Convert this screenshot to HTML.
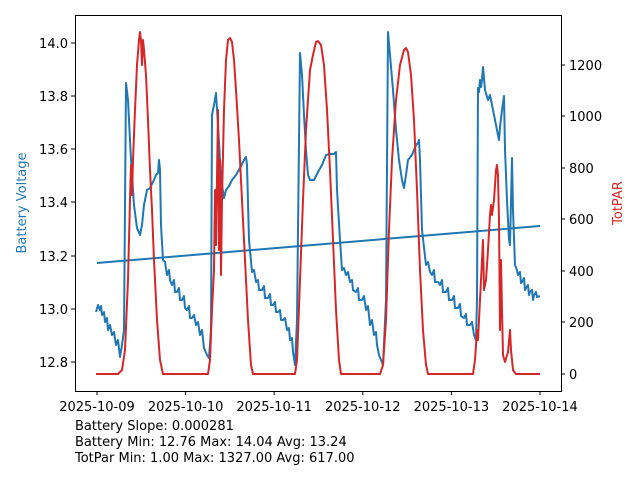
<!DOCTYPE html>
<html><head><meta charset="utf-8"><style>body{margin:0;background:#fff}svg{display:block}text{font-family:"DejaVu Sans","Liberation Sans",sans-serif}</style></head><body>
<svg width="640" height="480" viewBox="0 0 640 480" xmlns="http://www.w3.org/2000/svg">
<rect width="640" height="480" fill="#fff"/>
<g fill="none" stroke-width="2" stroke-linejoin="round">
<polyline stroke="#1f77b4" stroke-width="2" points="97,263 540,226"/>
<polyline stroke="#1f77b4" points="96,312 98,305 100,310 101,306 102,315 104,312 105,322 107,318 108,330 110,325 112,335 114,332 116,345 118,340 120,357 122,345 124,330 126,83 128,100 131,160 134,205 137,228 140,235 142,225 144,205 147,190 150,188 153,182 156,175 158,173 159,160 160,170 161,225 163,260 165,262 167,275 169,270 170,280 172,285 174,280 175,292 177,292 179,288 180,300 182,300 184,296 185,308 187,310 189,306 190,318 192,318 194,315 196,325 198,322 200,335 202,330 204,348 207,355 209,358 211,330 212,115 214,105 216,93 218,125 220,160 222,185 224,198 226,190 229,186 232,180 236,175 240,168 244,160 246,157 247,165 249,240 252,272 254,270 256,282 258,280 259,290 262,290 264,286 265,298 268,298 270,294 271,305 273,305 275,302 276,312 278,312 280,310 281,320 283,320 285,318 287,330 289,328 290,340 292,338 293,352 295,365 297,320 300,53 302,75 304,115 306,150 308,175 310,180 314,180 318,172 322,165 326,155 330,154 334,154 336,152 337,190 340,240 342,270 344,268 346,275 348,272 350,282 352,280 353,290 356,292 358,288 359,300 362,300 364,296 366,310 368,306 370,325 372,320 374,335 376,332 377,345 379,355 383,365 386,300 388,32 390,55 393,90 396,130 399,160 402,180 404,188 406,175 408,160 412,155 416,145 418,143 419,140 420,160 422,230 426,265 428,262 430,272 432,275 434,270 435,282 438,282 440,285 442,280 443,292 446,292 448,288 449,300 452,300 454,296 455,308 458,308 460,304 461,316 464,318 466,314 467,325 470,325 472,322 474,335 476,340 477,300 478,88 479,92 480,80 481,87 482,80 483,67 485,90 488,100 490,95 492,105 494,115 496,125 498,135 499,140 500,127 502,110 504,96 505,150 507,200 509,240 510,245 512,158 513,210 515,265 517,270 518,275 520,272 521,283 522,282 524,278 525,290 526,288 528,285 529,295 530,292 532,290 533,300 534,295 536,292 537,297 540,296"/>
<polyline stroke="#d62728" points="96,374 118,374 122,370 125,350 128,280 130,200 131,165 132,195 133,160 135,110 137,65 139,40 140,32 141,40 142,65 143,40 144,50 146,75 148,120 150,170 152,210 154,260 157,320 160,360 163,374 208,374 210,360 212,310 214,270 215,190 216,245 218,110 219,250 220,160 221,275 222,200 224,110 226,60 228,40 230,38 232,42 234,60 236,90 239,140 242,200 245,260 248,320 251,365 253,374 295,374 297,360 300,280 303,200 306,130 310,70 313,55 316,42 318,41 321,45 324,65 327,110 330,170 333,240 336,310 339,360 341,374 380,374 383,365 386,320 389,230 392,160 396,100 400,65 404,50 406,48 408,52 411,75 414,120 417,190 420,270 423,330 426,365 428,374 473,374 475,360 477,330 478,340 480,300 482,260 483,240 484,290 486,280 488,250 490,215 491,205 492,215 494,200 496,170 497,165 498,175 499,220 500,330 501,260 502,310 503,355 505,362 508,352 510,330 511,350 513,370 516,374 540,374"/>
</g>
<rect x="75.5" y="15.5" width="486" height="376" fill="none" stroke="#000" stroke-width="1"/>
<g stroke="#000" stroke-width="1">
<path d="M75,362h-4M75,309h-4M75,256h-4M75,202h-4M75,149h-4M75,96h-4M75,43h-4"/>
<path d="M561,374h4M561,322h4M561,271h4M561,219h4M561,168h4M561,116h4M561,65h4"/>
<path d="M97,391v4M185.6,391v4M274.2,391v4M362.8,391v4M451.4,391v4M540,391v4"/>
</g>
<g font-size="13" fill="#000" text-anchor="end">
<text x="68" y="367">12.8</text><text x="68" y="314">13.0</text><text x="68" y="261">13.2</text><text x="68" y="207">13.4</text><text x="68" y="154">13.6</text><text x="68" y="101">13.8</text><text x="68" y="48">14.0</text>
</g>
<g font-size="13" fill="#000">
<text x="569" y="379">0</text><text x="569" y="327">200</text><text x="569" y="276">400</text><text x="569" y="224">600</text><text x="569" y="173">800</text><text x="569" y="121">1000</text><text x="569" y="70">1200</text>
</g>
<g font-size="13" fill="#000" text-anchor="middle">
<text x="97" y="411">2025-10-09</text><text x="185.6" y="411">2025-10-10</text><text x="274.2" y="411">2025-10-11</text><text x="362.8" y="411">2025-10-12</text><text x="451.4" y="411">2025-10-13</text><text x="540" y="411">2025-10-14</text>
</g>
<text transform="translate(26,203) rotate(-90)" font-size="13" fill="#1f77b4" text-anchor="middle">Battery Voltage</text>
<text transform="translate(622,203) rotate(-90)" font-size="13" fill="#d62728" text-anchor="middle">TotPAR</text>
<g font-size="13" fill="#000">
<text x="75" y="430">Battery Slope: 0.000281</text>
<text x="75" y="446">Battery Min: 12.76 Max: 14.04 Avg: 13.24</text>
<text x="75" y="462">TotPar Min: 1.00 Max: 1327.00 Avg: 617.00</text>
</g>
</svg>
</body></html>
